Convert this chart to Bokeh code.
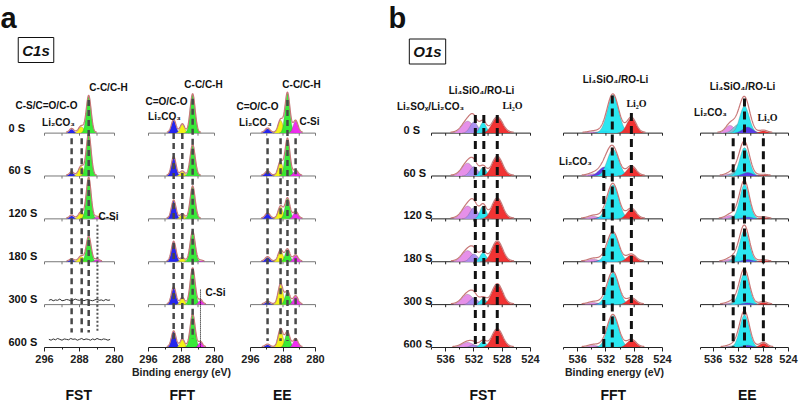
import numpy as np
from bokeh.plotting import figure
from bokeh.layouts import row
from bokeh.models import Range1d, Label, FixedTicker
from bokeh.embed import file_html
from bokeh.resources import INLINE

# ---------------- data ----------------
TIMES = ["0 S", "60 S", "120 S", "180 S", "300 S", "600 S"]

C1S_TICKS = [296, 288, 280]
C1S_MINOR = [292, 284]
C1S_ROW_TICKS = [296, 292, 288, 284, 280]
O1S_TICKS = [536, 532, 528, 524]
O1S_MINOR = [538, 534, 530, 526]
O1S_ROW_TICKS = [538, 536, 534, 532, 530, 528, 526, 524]

# C1s FST : Li2CO3, C=O/C-O, C-C/C-H, C-Si
FST_C_CENTERS = [289.8, 287.6, 285.9, 284.0]
FST_C_SIGMAS = [0.5, 0.6, 0.55, 0.5]
FST_C_HEIGHTS = [
    [0.09, 0.15, 0.86, 0.00],
    [0.08, 0.22, 0.98, 0.00],
    [0.07, 0.15, 0.95, 0.04],
    [0.05, 0.12, 0.58, 0.05],
    [0.00, 0.00, 0.00, 0.00],
    [0.00, 0.00, 0.00, 0.00],
]
FST_NOISE_300 = [0.10, 0.12, 0.09, 0.11, 0.10, 0.13, 0.09, 0.10, 0.12, 0.11, 0.09, 0.10, 0.13, 0.11, 0.10,
                 0.12, 0.09, 0.11, 0.12, 0.10, 0.09, 0.11, 0.13, 0.10, 0.11, 0.09, 0.12, 0.10, 0.11]
FST_NOISE_600 = [0.19, 0.17, 0.20, 0.18, 0.21, 0.19, 0.17, 0.20, 0.19, 0.18, 0.21, 0.19, 0.20, 0.17, 0.19,
                 0.21, 0.18, 0.20, 0.19, 0.17, 0.20, 0.18, 0.21, 0.19, 0.18, 0.20, 0.19, 0.17, 0.19]

# C1s FFT
FFT_C_CENTERS = [289.9, 287.8, 285.3, 283.4]
FFT_C_SIGMAS = [0.55, 0.55, 0.6, 0.5]
FFT_C_HEIGHTS = [
    [0.30, 0.20, 0.90, 0.00],
    [0.44, 0.10, 0.72, 0.00],
    [0.42, 0.10, 0.75, 0.00],
    [0.46, 0.08, 0.70, 0.02],
    [0.40, 0.15, 0.84, 0.10],
    [0.37, 0.18, 0.77, 0.12],
]

# C1s EE
EE_C_CENTERS = [291.8, 288.6, 286.9, 284.9]
EE_C_SIGMAS = [0.6, 0.6, 0.6, 0.6]
EE_C_HEIGHTS = [
    [0.10, 0.30, 0.93, 0.28],
    [0.10, 0.33, 0.86, 0.12],
    [0.12, 0.28, 0.47, 0.16],
    [0.10, 0.26, 0.28, 0.14],
    [0.06, 0.47, 0.30, 0.19],
    [0.06, 0.42, 0.35, 0.19],
]
C1S_COLORS = ["#1a1aee", "#f2f20a", "#2ee82e", "#ee22ee"]

# O1s FST : Li2SOx, Li2CO3, Li4SiO4/RO-Li, Li2O
FST_O_CENTERS = [532.9, 532.0, 530.7, 528.7]
FST_O_SIGMAS = [0.8, 0.55, 0.45, 0.75]
FST_O_HEIGHTS = [
    [0.28, 0.26, 0.25, 0.36],
    [0.30, 0.22, 0.20, 0.44],
    [0.30, 0.26, 0.30, 0.47],
    [0.26, 0.18, 0.21, 0.47],
    [0.24, 0.16, 0.14, 0.47],
    [0.12, 0.06, 0.14, 0.42],
]
FST_O_COLORS = ["#e58ae8", "#a98cf0", "#20e6f0", "#f02828"]

# O1s FFT : pink, Li2CO3, Li4SiO4/RO-Li, Li2O
FFT_O_CENTERS = [533.8, 532.2, 531.0, 528.4]
FFT_O_SIGMAS = [0.7, 0.8, 0.8, 0.65]
FFT_O_HEIGHTS = [
    [0.03, 0.05, 0.88, 0.35],
    [0.05, 0.21, 0.62, 0.22],
    [0.06, 0.06, 0.79, 0.23],
    [0.06, 0.05, 0.67, 0.16],
    [0.05, 0.05, 0.74, 0.14],
    [0.05, 0.04, 0.74, 0.17],
]
FFT_O_COLORS = ["#e58ae8", "#5a32e6", "#20e6f0", "#f02828"]

# O1s EE : Li2CO3, shoulder, Li4SiO4/RO-Li, RO-Li, Li2O
EE_O_CENTERS = [533.3, 532.0, 531.0, 530.5, 528.0]
EE_O_SIGMAS = [0.7, 0.8, 0.75, 0.8, 0.6]
EE_O_HEIGHTS = [
    [0.18, 0.20, 0.63, 0.14, 0.05],
    [0.05, 0.15, 0.66, 0.08, 0.02],
    [0.08, 0.10, 0.80, 0.04, 0.03],
    [0.06, 0.12, 0.74, 0.05, 0.03],
    [0.04, 0.10, 0.74, 0.04, 0.05],
    [0.03, 0.08, 0.76, 0.05, 0.10],
]
EE_O_COLORS = ["#e58ae8", "#7cc4d8", "#20e6f0", "#5a32e6", "#f02828"]

# reference dashed guide lines: (energy, top, bottom, style)
FST_C_GUIDES = [(289.8, 4.88, 0.35, "d"), (287.5, 4.88, 0.35, "d"), (285.9, 5.77, 0.35, "d"), (283.9, 2.86, 0.35, "o")]
FFT_C_GUIDES = [(289.9, 5.0, 0.2, "d"), (287.8, 5.0, 0.2, "d"), (285.3, 5.8, 0.2, "d"), (283.4, 1.35, 0.0, "k")]
EE_C_GUIDES = [(291.8, 4.88, 0.15, "d"), (288.6, 4.88, 0.15, "d"), (286.9, 5.77, 0.15, "d"), (284.9, 4.88, 0.15, "d")]
FST_O_GUIDES = [(531.8, 5.42, 0.02, "b"), (530.6, 5.42, 0.02, "b"), (528.7, 5.42, 0.02, "b")]
FFT_O_GUIDES = [(532.3, 4.14, 0.0, "b"), (531.1, 5.88, 0.0, "b"), (528.4, 5.47, 0.0, "b")]
EE_O_GUIDES = [(532.8, 4.88, 0.0, "b"), (531.0, 5.81, 0.0, "b"), (528.0, 4.88, 0.0, "b")]

# ---------------- layout (page pixel coordinates) ----------------
H = 406
BASE_REF = 348
YPX = 43.0
YTOP = BASE_REF / YPX
FONT = "Liberation Sans"
SERIF = "Liberation Serif"
ENV = "#c87878"

GUIDE_STYLE = {
    "d": dict(line_color="#484848", line_width=2.5, line_dash="6 4"),
    "o": dict(line_color="#555555", line_width=2, line_dash="2 2"),
    "k": dict(line_color="#000000", line_width=1, line_dash="1 1"),
    "b": dict(line_color="#111111", line_width=3, line_dash="8 5"),
}


def make_panel(ref_left, ref_right, frame_left, frame_right, xr, ticks, minor, row_ticks,
               centers, sigmas, heights, colors, guides, title, title_center, title_w,
               xlabel="\u00a0", base_color="#777777"):
    k = (frame_right - frame_left) / float(xr[0] - xr[1])
    x_start = xr[0] + (frame_left - ref_left) / k
    x_end = xr[1] - (ref_right - frame_right) / k
    p = figure(width=ref_right - ref_left, height=H,
               x_range=Range1d(x_start, x_end), y_range=Range1d(0, YTOP),
               output_backend="svg", toolbar_location=None,
               min_border_left=0, min_border_right=0, min_border_top=0,
               min_border_bottom=H - BASE_REF,
               y_axis_location=None, outline_line_color=None,
               title=title, title_location="below")
    p.grid.visible = False
    p.title.align = "left"
    p.title.offset = title_center - ref_left - title_w / 2.0
    p.title.standoff = 8
    p.title.text_font = FONT
    p.title.text_font_style = "bold"
    p.title.text_font_size = "14px"
    p.title.text_color = "#111111"
    ax = p.xaxis[0]
    ax.bounds = (min(xr), max(xr))
    ax.ticker = FixedTicker(ticks=ticks, minor_ticks=minor)
    ax.axis_line_color = "#222222"
    ax.major_tick_line_color = "#222222"
    ax.minor_tick_line_color = "#222222"
    ax.major_tick_out = 4
    ax.major_tick_in = 0
    ax.minor_tick_out = 2
    ax.minor_tick_in = 0
    ax.major_label_standoff = 3
    ax.major_label_text_font = FONT
    ax.major_label_text_font_style = "bold"
    ax.major_label_text_font_size = "11px"
    ax.major_label_text_color = "#222222"
    ax.axis_label = xlabel
    ax.axis_label_standoff = 0
    ax.axis_label_text_font = FONT
    ax.axis_label_text_font_style = "bold"
    ax.axis_label_text_font_size = "10.5px"
    ax.axis_label_text_color = "#222222"

    lo, hi = min(xr), max(xr)
    x = np.linspace(lo, hi, 400)
    n_rows = len(heights)
    offs = [n_rows - 1 - i for i in range(n_rows)]
    upper = [o for o in offs if o > 0]
    p.segment(x0=[lo] * len(upper), x1=[hi] * len(upper), y0=upper, y1=upper,
              line_color=base_color, line_width=1)
    tx, ty0, ty1 = [], [], []
    for o in upper:
        for t in row_ticks:
            tx.append(t)
            ty0.append(o)
            ty1.append(o - 0.06)
    p.segment(x0=tx, x1=tx, y0=ty0, y1=ty1, line_color=base_color, line_width=1)

    for i in range(n_rows):
        off = offs[i]
        total = np.zeros_like(x)
        for c, s, col, h in zip(centers, sigmas, colors, heights[i]):
            if h <= 0:
                continue
            g = h * np.exp(-0.5 * ((x - c) / s) ** 2)
            total += g
            m = g > 0.002
            p.varea(x=x[m], y1=np.full(m.sum(), float(off)), y2=off + g[m],
                    fill_color=col, fill_alpha=0.95)
            p.line(x[m], off + g[m], line_color="#666666", line_width=0.5, line_alpha=0.6)
        if total.max() > 0:
            m = total > 0.003
            p.line(x[m], off + total[m] + 0.02, line_color=ENV, line_width=1.2)

    for style in GUIDE_STYLE:
        gs = [g for g in guides if g[3] == style]
        if gs:
            p.segment(x0=[g[0] for g in gs], x1=[g[0] for g in gs],
                      y0=[g[1] for g in gs], y1=[g[2] for g in gs], **GUIDE_STYLE[style])
    return p


def label(p, fig_left, rx, ry, text, size="10px", font=FONT, style="bold", align="center",
          baseline="middle", **kw):
    p.add_layout(Label(x=rx - fig_left, y=BASE_REF - ry, x_units="screen", y_units="screen",
                       text=text, text_font=font, text_font_style=style, text_font_size=size,
                       text_align=align, text_baseline=baseline, text_color="#111111", **kw))


def time_labels(p, fig_left, rx, lift):
    n = len(TIMES)
    for i, t in enumerate(TIMES):
        p.add_layout(Label(x=rx - fig_left, y=(n - 1 - i) + lift,
                           x_units="screen", y_units="data", text=t, text_font=FONT,
                           text_font_style="bold", text_font_size="11px", text_align="left",
                           text_baseline="middle", text_color="#111111"))


# ---- panel a ----
f1 = make_panel(0, 130, 44, 114, (296, 280), C1S_TICKS, C1S_MINOR, C1S_ROW_TICKS,
                FST_C_CENTERS, FST_C_SIGMAS, FST_C_HEIGHTS, C1S_COLORS, FST_C_GUIDES,
                "FST", 78, 26)
xn = np.linspace(295, 281, len(FST_NOISE_300))
f1.line(xn, 1 + np.array(FST_NOISE_300), line_color="#333333", line_width=1)
f1.line(xn, np.array(FST_NOISE_600), line_color="#333333", line_width=1)
time_labels(f1, 0, 8, 0.13)
label(f1, 0, 0, 2, "a", size="29px", align="left", baseline="top")
label(f1, 0, 35.5, 50.5, "C1s", size="15px", style="bold italic",
      border_line_color="#111111", border_line_width=1, background_fill_color="white", padding=4)
label(f1, 0, 108, 88, "C-C/C-H")
label(f1, 0, 46, 106, "C-S/C=O/C-O")
label(f1, 0, 58, 123, "Li₂CO₃")
label(f1, 0, 108, 217, "C-Si")

f2 = make_panel(130, 232, 148, 214, (296, 280), C1S_TICKS, C1S_MINOR, C1S_ROW_TICKS,
                FFT_C_CENTERS, FFT_C_SIGMAS, FFT_C_HEIGHTS, C1S_COLORS, FFT_C_GUIDES,
                "FFT", 182, 26, xlabel="Binding energy (eV)")
label(f2, 130, 203, 85, "C-C/C-H")
label(f2, 130, 166, 102, "C=O/C-O")
label(f2, 130, 164, 117, "Li₂CO₃")
label(f2, 130, 215, 293, "C-Si")

f3 = make_panel(232, 385, 250, 315, (296, 280), C1S_TICKS, C1S_MINOR, C1S_ROW_TICKS,
                EE_C_CENTERS, EE_C_SIGMAS, EE_C_HEIGHTS, C1S_COLORS, EE_C_GUIDES,
                "EE", 282, 19)
label(f3, 232, 301, 85, "C-C/C-H")
label(f3, 232, 257, 107, "C=O/C-O")
label(f3, 232, 255, 123, "Li₂CO₃")
label(f3, 232, 309, 122, "C-Si")

# ---- panel b ----
f4 = make_panel(385, 547, 431, 530, (538, 524), O1S_TICKS, O1S_MINOR, O1S_ROW_TICKS,
                FST_O_CENTERS, FST_O_SIGMAS, FST_O_HEIGHTS, FST_O_COLORS, FST_O_GUIDES,
                "FST", 482, 26, base_color="#222222")
time_labels(f4, 385, 403, 0.08)
label(f4, 385, 388, 2, "b", size="29px", align="left", baseline="top")
label(f4, 385, 427, 52, "O1s", size="15px", style="bold italic",
      border_line_color="#111111", border_line_width=1, background_fill_color="white", padding=4)
label(f4, 385, 481, 91, "Li₄SiO₄/RO-Li")
label(f4, 385, 430, 107, "Li₂SOₓ/Li₂CO₃")
label(f4, 385, 512, 106, "Li₂O", font=SERIF)

f5 = make_panel(547, 681, 563, 662, (538, 524), O1S_TICKS, O1S_MINOR, O1S_ROW_TICKS,
                FFT_O_CENTERS, FFT_O_SIGMAS, FFT_O_HEIGHTS, FFT_O_COLORS, FFT_O_GUIDES,
                "FFT", 613, 26, xlabel="Binding energy (eV)", base_color="#222222")
label(f5, 547, 615, 80, "Li₄SiO₄/RO-Li")
label(f5, 547, 636, 104, "Li₂O", font=SERIF)
label(f5, 547, 575, 162, "Li₂CO₃")

f6 = make_panel(681, 800, 700, 788, (538, 524), O1S_TICKS, O1S_MINOR, O1S_ROW_TICKS,
                EE_O_CENTERS, EE_O_SIGMAS, EE_O_HEIGHTS, EE_O_COLORS, EE_O_GUIDES,
                "EE", 747, 19, base_color="#222222")
label(f6, 681, 742, 87, "Li₄SiO₄/RO-Li")
label(f6, 681, 710, 113, "Li₂CO₃")
label(f6, 681, 767, 118, "Li₂O", font=SERIF)

layout = row(f1, f2, f3, f4, f5, f6, spacing=0)
open("out.html", "w").write(file_html(layout, INLINE))
